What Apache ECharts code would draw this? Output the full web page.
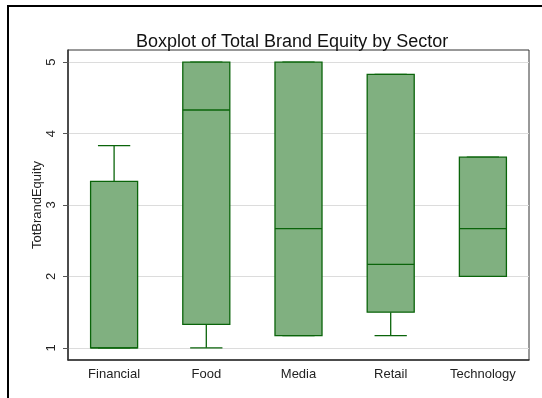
<!DOCTYPE html>
<html>
<head>
<meta charset="utf-8">
<script src="https://cdn.jsdelivr.net/npm/echarts@6/dist/echarts.min.js"></script>
<style>
  html, body { margin: 0; padding: 0; background: #fff; }
  #chart { width: 542px; height: 398px; }
</style>
</head>
<body>
<div id="chart"></div>
<script>
// Sector categories and five-number summaries of total brand equity
const categories = ['Financial', 'Food', 'Media', 'Retail', 'Technology'];
const minVals  = [1.00, 1.00, 1.17, 1.17, 2.00];
const q1Vals   = [1.00, 1.33, 1.17, 1.50, 2.00];
const medians  = [1.00, 4.33, 2.67, 2.17, 2.67];
const q3Vals   = [3.33, 5.00, 5.00, 4.83, 3.67];
const maxVals  = [3.83, 5.00, 5.00, 4.83, 3.67];
const yTicks   = [1, 2, 3, 4, 5];

const boxData = categories.map((c, i) => [i, minVals[i], q1Vals[i], medians[i], q3Vals[i], maxVals[i]]);

const boxFill = '#80b080';
const boxLine = '#0a640a';
const fontFamily = 'Liberation Sans, Arial, sans-serif';

function renderBox(params, api) {
  const i = api.value(0);
  const vMin = api.value(1), vQ1 = api.value(2), vMed = api.value(3), vQ3 = api.value(4), vMax = api.value(5);
  const band = api.size([1, 0])[0];
  const halfBox = band * 0.255;
  const halfCap = band * 0.175;
  const pMin = api.coord([i, vMin]);
  const pQ1 = api.coord([i, vQ1]);
  const pMed = api.coord([i, vMed]);
  const pQ3 = api.coord([i, vQ3]);
  const pMax = api.coord([i, vMax]);
  const x = pQ1[0];
  const lineStyle = { stroke: boxLine, lineWidth: 1.3, fill: null };
  const children = [];
  if (vMax > vQ3) {
    children.push({ type: 'line', shape: { x1: x, y1: pQ3[1], x2: x, y2: pMax[1] }, style: lineStyle });
  }
  if (vMin < vQ1) {
    children.push({ type: 'line', shape: { x1: x, y1: pQ1[1], x2: x, y2: pMin[1] }, style: lineStyle });
  }
  children.push({ type: 'line', shape: { x1: x - halfCap, y1: pMax[1], x2: x + halfCap, y2: pMax[1] }, style: lineStyle });
  children.push({ type: 'line', shape: { x1: x - halfCap, y1: pMin[1], x2: x + halfCap, y2: pMin[1] }, style: lineStyle });
  children.push({
    type: 'rect',
    shape: { x: x - halfBox, y: pQ3[1], width: halfBox * 2, height: pQ1[1] - pQ3[1] },
    style: { fill: boxFill, stroke: boxLine, lineWidth: 1.3 }
  });
  children.push({ type: 'line', shape: { x1: x - halfBox, y1: pMed[1], x2: x + halfBox, y2: pMed[1] }, style: lineStyle });
  return { type: 'group', children: children };
}

const chart = echarts.init(document.getElementById('chart'), null, { renderer: 'canvas' });
chart.setOption({
  backgroundColor: '#fff',
  animation: false,
  textStyle: { fontFamily: fontFamily },
  title: {
    text: 'Boxplot of Total Brand Equity by Sector',
    left: 131,
    top: 28,
    textStyle: { fontSize: 18, fontWeight: 'normal', color: '#111', fontFamily: fontFamily }
  },
  graphic: [{
    type: 'rect',
    shape: { x: 8, y: 6, width: 600, height: 500 },
    style: { fill: null, stroke: '#000', lineWidth: 2 },
    silent: true
  }],
  grid: {
    left: 68, right: 13, top: 50, bottom: 38,
    show: true, borderColor: '#333', borderWidth: 1, backgroundColor: 'transparent'
  },
  xAxis: {
    type: 'category',
    data: categories,
    boundaryGap: true,
    axisLine: { lineStyle: { color: '#333', width: 1.5 } },
    axisTick: { show: false },
    axisLabel: { color: '#222', fontSize: 13, margin: 8 },
    splitLine: { show: false }
  },
  yAxis: {
    type: 'value',
    min: 0.83,
    max: 5.17,
    name: 'TotBrandEquity',
    nameLocation: 'middle',
    nameGap: 24,
    nameMoveOverlap: false,
    nameTextStyle: { color: '#222', fontSize: 13 },
    axisLine: { show: true, lineStyle: { color: '#333', width: 1.5 } },
    axisTick: { show: true, length: 5, lineStyle: { color: '#555' }, customValues: yTicks },
    axisLabel: { color: '#222', fontSize: 13, rotate: 90, margin: 10, customValues: yTicks },
    splitLine: { show: true, lineStyle: { color: '#dcdcdc', width: 1 } }
  },
  series: [{
    type: 'custom',
    renderItem: renderBox,
    encode: { x: 0, y: [1, 2, 3, 4, 5] },
    data: boxData,
    clip: false
  }]
});
</script>
</body>
</html>
